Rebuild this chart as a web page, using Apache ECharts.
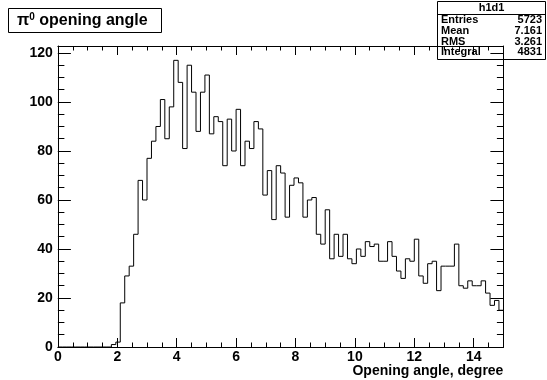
<!DOCTYPE html>
<html>
<head>
<meta charset="utf-8">
<script src="https://cdn.jsdelivr.net/npm/echarts@6/dist/echarts.min.js"></script>
<style>
html,body{margin:0;padding:0;background:#fff;}
#c{width:547px;height:380px;}
</style>
</head>
<body>
<div id="c"></div>
<script>
// Histogram: 100 bins from 0 to 15 (bin width 0.15)
var binLow = 0, binHigh = 15, nBins = 100;
var counts = [
  0,0,0,0,0,0,0,0,0,0,
  0,0,1,2,18,29,33,46,68,60,
  77,84,90,101,85,98,117,108,81,115,
  104,88,104,111,87,94,92,74,93,80,
  97,74,84,81,92,89,62,72,52,74,
  71,53,66,69,67,53,60,61,46,42,
  56,36,46,37,46,36,34,40,37,43,
  41,42,35,35,43,37,31,28,36,35,
  44,29,26,34,35,23,33,33,33,42,
  25,24,27,25,25,27,22,17,19,15
];
var xTitle = 'Opening angle, degree';
var statsName = 'h1d1';
var statsLabels = ['Entries','Mean','RMS','Integral'];
var statsValues = ['5723','7.161','3.261','4831'];
var yMax = 122.85;

var bw = (binHigh - binLow) / nBins;
var pts = counts.map(function(v, i){ return [binLow + i*bw, v]; });
pts.push([binHigh, counts[counts.length-1]]);

var F = '"Liberation Sans", Arial, Helvetica, sans-serif';
var chart = echarts.init(document.getElementById('c'), null, {renderer:'canvas'});

function xa(pos, interval, len, labels, line){
  return {
    type:'value', min:binLow, max:binHigh, interval:interval, position:pos,
    axisLine:{show:line, onZero:false, lineStyle:{color:'#000', width:1}},
    axisTick:{show:true, inside:true, length:len, lineStyle:{color:'#000', width:1}},
    axisLabel:{show:labels, margin:3, color:'#000', fontFamily:F, fontWeight:'bold', fontSize:14, showMaxLabel:false},
    splitLine:{show:false},
    name: labels ? xTitle : '',
    nameLocation:'end', nameGap:0,
    nameTextStyle:{color:'#000', fontFamily:F, fontWeight:'bold', fontSize:14, align:'right', verticalAlign:'top', padding:[17,0,0,0]}
  };
}
function ya(pos, interval, len, labels, line){
  return {
    type:'value', min:0, max:yMax, interval:interval, position:pos,
    axisLine:{show:line, onZero:false, lineStyle:{color:'#000', width:1}},
    axisTick:{show:true, inside:true, length:len, lineStyle:{color:'#000', width:1}},
    axisLabel:{show:labels, margin:5, color:'#000', fontFamily:F, fontWeight:'bold', fontSize:14, showMaxLabel:false},
    splitLine:{show:false}
  };
}

var statsGraphics = [
  {type:'rect', shape:{x:437.5, y:1.5, width:108, height:58}, style:{fill:'#fff', stroke:'#000', lineWidth:1}},
  {type:'line', shape:{x1:437.5, y1:14.5, x2:545.5, y2:14.5}, style:{stroke:'#000', lineWidth:1}},
  {type:'text', x:491.5, y:8, style:{text:statsName, fill:'#000', font:'bold 11px '+F, textAlign:'center', textVerticalAlign:'middle'}}
];
statsLabels.forEach(function(l, i){
  statsGraphics.push({type:'text', x:441, y:20 + i*10.8, style:{text:l, fill:'#000', font:'bold 11px '+F, textAlign:'left', textVerticalAlign:'middle'}});
  statsGraphics.push({type:'text', x:542, y:20 + i*10.8, style:{text:statsValues[i], fill:'#000', font:'bold 11px '+F, textAlign:'right', textVerticalAlign:'middle'}});
});

chart.setOption({
  animation:false,
  backgroundColor:'#fff',
  grid:{left:57.9, right:43.6, top:46, bottom:33, containLabel:false},
  xAxis:[ xa('bottom',2,9,true,true), xa('bottom',0.5,4.5,false,false), xa('top',2,9,false,true), xa('top',0.5,4.5,false,false) ],
  yAxis:[ ya('left',20,13,true,true), ya('left',5,6.5,false,false), ya('right',20,13,false,true), ya('right',5,6.5,false,false) ],
  series:[{
    type:'line', xAxisIndex:0, yAxisIndex:0, step:'end', data:pts,
    symbol:'none', lineStyle:{color:'#000', width:1}, silent:true, clip:true, z:1
  }],
  graphic:[
    {type:'group', children:[
      {type:'rect', shape:{x:8.5, y:8.5, width:153, height:24}, style:{fill:'#fff', stroke:'#000', lineWidth:1}},
      {type:'text', x:17, y:21, style:{
        rich:{ b:{font:'bold 16px '+F, fill:'#000'}, s:{font:'bold 10px '+F, fill:'#000', padding:[0,0,8,0]} },
        text:'{b|π}{s|0}{b| opening angle}', textVerticalAlign:'middle'
      }}
    ]},
    {type:'group', children:statsGraphics}
  ]
});
</script>
</body>
</html>
